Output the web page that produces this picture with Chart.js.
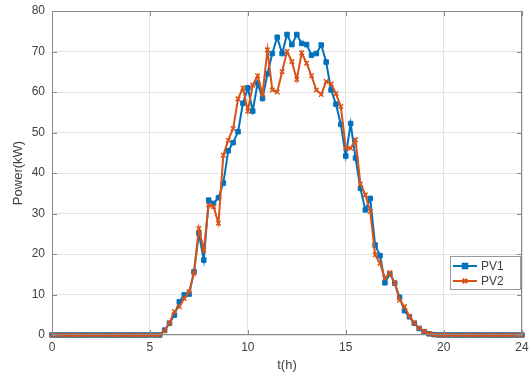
<!DOCTYPE html>
<html>
<head>
<meta charset="utf-8">
<script src="https://cdn.jsdelivr.net/npm/chart.js@4.4.1/dist/chart.umd.min.js"></script>
<style>
  html, body { margin: 0; padding: 0; background: #fff; }
  #pv-chart { display: block; }
</style>
</head>
<body>
<canvas id="pv-chart" width="530" height="376"></canvas>
<script>
// time of day, every 15 minutes
const hours = [
  0, 0.25, 0.5, 0.75, 1, 1.25, 1.5, 1.75, 2, 2.25, 2.5, 2.75,
  3, 3.25, 3.5, 3.75, 4, 4.25, 4.5, 4.75, 5, 5.25, 5.5, 5.75,
  6, 6.25, 6.5, 6.75, 7, 7.25, 7.5, 7.75, 8, 8.25, 8.5, 8.75,
  9, 9.25, 9.5, 9.75, 10, 10.25, 10.5, 10.75, 11, 11.25, 11.5, 11.75,
  12, 12.25, 12.5, 12.75, 13, 13.25, 13.5, 13.75, 14, 14.25, 14.5, 14.75,
  15, 15.25, 15.5, 15.75, 16, 16.25, 16.5, 16.75, 17, 17.25, 17.5, 17.75,
  18, 18.25, 18.5, 18.75, 19, 19.25, 19.5, 19.75, 20, 20.25, 20.5, 20.75,
  21, 21.25, 21.5, 21.75, 22, 22.25, 22.5, 22.75, 23, 23.25, 23.5, 23.75, 24
];

// PV1 power (kW)
const pv1 = [
  0, 0, 0, 0, 0, 0, 0, 0, 0, 0, 0, 0,
  0, 0, 0, 0, 0, 0, 0, 0, 0, 0, 0, 1.2,
  2.9, 4.9, 8.2, 9.9, 10.1, 15.6, 25.1, 18.5, 33.3, 32.5, 33.9, 37.5,
  45.5, 47.5, 50.2, 57.2, 61, 55.3, 62.2, 58.4, 64.5, 69.5, 73.5, 69.5,
  74.2, 71.7, 74.2, 72, 71.7, 69.1, 69.5, 71.6, 67.4, 60.5, 57, 52,
  44.2, 52.2, 43.7, 36.2, 30.9, 33.7, 22.2, 19.6, 12.9, 15.1, 12.8, 9.3,
  6.0, 4.5, 2.9, 1.6, 0.8, 0.3, 0.1, 0, 0, 0, 0, 0,
  0, 0, 0, 0, 0, 0, 0, 0, 0, 0, 0, 0, 0
];

// PV2 power (kW)
const pv2 = [
  0, 0, 0, 0, 0, 0, 0, 0, 0, 0, 0, 0,
  0, 0, 0, 0, 0, 0, 0, 0, 0, 0, 0, 1.0,
  3.0, 5.8, 7.0, 9.0, 10.7, 15.2, 26.3, 21.0, 32.1, 31.7, 27.6, 44.4,
  48.1, 51, 58.3, 61, 55.3, 61.7, 64, 59.5, 70.4, 60.5, 60, 65,
  70, 67.5, 63.1, 69.7, 67.1, 64, 60.5, 59.4, 62.6, 62, 59.6, 56.4,
  46.1, 46.1, 48.2, 37.3, 34.6, 30.5, 19.8, 17.7, 14.0, 15.4, 12.9, 8.6,
  7.0, 4.6, 3.0, 1.7, 0.9, 0.35, 0.1, 0, 0, 0, 0, 0,
  0, 0, 0, 0, 0, 0, 0, 0, 0, 0, 0, 0, 0
];

const xTicks = [0, 5, 10, 15, 20, 24];
const yTicks = [0, 10, 20, 30, 40, 50, 60, 70, 80];

const blue = '#0072BD';
const orange = '#D95319';
const axisGrey = '#8a8a8a';
const textGrey = '#404040';
const fontFamily = '"Liberation Sans", Arial, Helvetica, sans-serif';

function toPoints(values) {
  return values.map((v, i) => ({ x: hours[i], y: v }));
}

// box round the plot with small inward ticks, like matlab
const boxPlugin = {
  id: 'box',
  afterDatasetsDraw(chart) {
    const { ctx, chartArea: a, scales } = chart;
    ctx.save();
    ctx.strokeStyle = axisGrey;
    ctx.lineWidth = 1;
    ctx.beginPath();
    xTicks.forEach(t => {
      const px = Math.round(scales.x.getPixelForValue(t)) + 0.5;
      ctx.moveTo(px, a.bottom); ctx.lineTo(px, a.bottom - 5);
      ctx.moveTo(px, a.top); ctx.lineTo(px, a.top + 5);
    });
    yTicks.forEach(t => {
      const py = Math.round(scales.y.getPixelForValue(t)) + 0.5;
      ctx.moveTo(a.left, py); ctx.lineTo(a.left + 5, py);
      ctx.moveTo(a.right, py); ctx.lineTo(a.right - 5, py);
    });
    ctx.stroke();
    ctx.strokeRect(Math.round(a.left) + 0.5, Math.round(a.top) + 0.5,
      Math.round(a.right - a.left) - 1, Math.round(a.bottom - a.top) - 1);
    ctx.restore();
  }
};

// legend drawn inside the axes, bottom right
const insideLegend = {
  id: 'insideLegend',
  afterDraw(chart) {
    const { ctx } = chart;
    const bx = 450, by = 256, bw = 70, bh = 33;
    ctx.save();
    ctx.fillStyle = '#fff';
    ctx.fillRect(bx, by, bw, bh);
    ctx.strokeStyle = '#9a9a9a';
    ctx.lineWidth = 1;
    ctx.strokeRect(bx + 0.5, by + 0.5, bw, bh);
    chart.data.datasets.forEach((ds, i) => {
      const y = by + 10 + i * 15;
      ctx.strokeStyle = ds.borderColor;
      ctx.lineWidth = 2;
      ctx.beginPath();
      ctx.moveTo(bx + 3, y); ctx.lineTo(bx + 27, y);
      ctx.stroke();
      Chart.helpers.drawPoint(ctx, {
        pointStyle: ds.pointStyle, radius: ds.pointRadius, borderWidth: ds.pointBorderWidth || 1.5
      }, bx + 15, y);
      if (ds.pointStyle === 'rect') {
        ctx.fillStyle = ds.borderColor;
        ctx.fillRect(bx + 15 - 2.5, y - 2.5, 5, 5);
      }
      ctx.fillStyle = textGrey;
      ctx.font = '12px ' + fontFamily;
      ctx.textBaseline = 'middle';
      ctx.fillText(ds.label, bx + 31, y + 1);
    });
    ctx.restore();
  }
};

function main() {
  const canvas = document.querySelector('#pv-chart');

  new Chart(canvas.getContext('2d'), {
    type: 'line',
    data: {
      datasets: [
        {
          label: 'PV1',
          data: toPoints(pv1),
          borderColor: blue,
          backgroundColor: blue,
          borderWidth: 2,
          pointStyle: 'rect',
          pointRadius: 3.2,
          pointBorderWidth: 1,
          order: 1,
          clip: false
        },
        {
          label: 'PV2',
          data: toPoints(pv2),
          borderColor: orange,
          backgroundColor: orange,
          borderWidth: 2,
          pointStyle: 'crossRot',
          pointRadius: 3.2,
          pointBorderWidth: 1.5,
          order: 0,
          clip: false
        }
      ]
    },
    options: {
      responsive: false,
      animation: false,
      layout: { padding: { top: 11, right: 8, left: 0, bottom: 0 } },
      plugins: {
        legend: { display: false },
        tooltip: { enabled: false }
      },
      scales: {
        x: {
          type: 'linear',
          min: 0,
          max: 24,
          afterBuildTicks: scale => { scale.ticks = xTicks.map(v => ({ value: v })); },
          afterFit: scale => { scale.height = 41; scale.paddingLeft = 0; scale.paddingRight = 0; },
          grid: { color: '#e3e3e3', drawTicks: false },
          border: { display: false },
          ticks: { color: textGrey, font: { family: fontFamily, size: 12 }, padding: 5, maxRotation: 0 },
          title: {
            display: true, text: 't(h)', color: textGrey,
            font: { family: fontFamily, size: 13 }, padding: { top: 0, bottom: 3 }
          }
        },
        y: {
          min: 0,
          max: 80,
          afterBuildTicks: scale => { scale.ticks = yTicks.map(v => ({ value: v })); },
          afterFit: scale => { scale.width = 52; scale.paddingTop = 0; scale.paddingBottom = 0; },
          grid: { color: '#e3e3e3', drawTicks: false },
          border: { display: false },
          ticks: { color: textGrey, font: { family: fontFamily, size: 12 }, padding: 7 },
          title: {
            display: true, text: 'Power(kW)', color: textGrey,
            font: { family: fontFamily, size: 13 }, padding: { top: 11, bottom: 0 }
          }
        }
      }
    },
    plugins: [boxPlugin, insideLegend]
  });
}

main();
</script>
</body>
</html>
